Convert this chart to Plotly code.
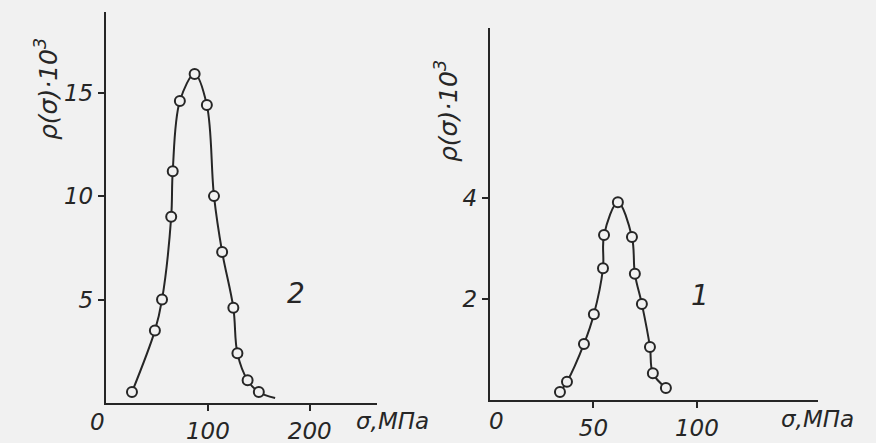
import plotly.graph_objects as go

W, H = 876, 443
BG = "#f1f1f1"
INK = "#262626"

# Panel "2" (left): sigma (MPa) and p(sigma)*10^3
sigma_2 = [25.5, 48, 55, 64, 65.5, 72.5, 87, 99, 106, 114, 125, 129, 139, 150]
p_2 = [0.53, 3.5, 5.0, 9.0, 11.2, 14.6, 15.9, 14.4, 10.0, 7.3, 4.6, 2.4, 1.1, 0.53]
tail_sigma_2 = [166]
tail_p_2 = [0.24]

# Panel "1" (right)
sigma_1 = [33.8, 37.2, 45.4, 50.2, 54.6, 55.1, 61.8, 68.6, 70.0, 73.4, 77.3, 78.7, 85.0]
p_1 = [0.16, 0.36, 1.11, 1.70, 2.61, 3.27, 3.92, 3.23, 2.50, 1.90, 1.05, 0.53, 0.24]

xticks_2 = [100, 200]
yticks_2 = [5, 10, 15]
xticks_1 = [50, 100]
yticks_1 = [2, 4]

FONT = dict(family="DejaVu Sans", size=23, color=INK, style="italic")

fig = go.Figure()

fig.add_trace(go.Scatter(x=sigma_2 + tail_sigma_2, y=p_2 + tail_p_2, mode="lines",
                         line=dict(color=INK, width=2, shape="spline", smoothing=1.0),
                         xaxis="x", yaxis="y", hoverinfo="skip"))
fig.add_trace(go.Scatter(x=sigma_2, y=p_2, mode="markers",
                         marker=dict(symbol="circle", size=10, color=BG, line=dict(color=INK, width=2)),
                         xaxis="x", yaxis="y"))
fig.add_trace(go.Scatter(x=sigma_1, y=p_1, mode="lines",
                         line=dict(color=INK, width=2, shape="spline", smoothing=1.0),
                         xaxis="x2", yaxis="y2", hoverinfo="skip"))
fig.add_trace(go.Scatter(x=sigma_1, y=p_1, mode="markers",
                         marker=dict(symbol="circle", size=10, color=BG, line=dict(color=INK, width=2)),
                         xaxis="x2", yaxis="y2"))

ax_common = dict(showline=True, linecolor=INK, linewidth=2.4, ticks="outside", ticklen=6,
                 tickwidth=1.8, tickcolor=INK, showgrid=False, zeroline=False,
                 tickfont=FONT, fixedrange=True, automargin=False)

fig.update_layout(
    width=W, height=H, autosize=False,
    margin=dict(l=0, r=0, t=0, b=0),
    paper_bgcolor=BG, plot_bgcolor=BG,
    showlegend=False,
    xaxis=dict(domain=[106 / W, 377 / W], range=[0, 266], anchor="y",
               tickvals=xticks_2, **ax_common),
    yaxis=dict(domain=[1 - 403 / H, 1 - 12 / H], range=[0, 18.9], anchor="x",
               tickvals=yticks_2, **ax_common),
    xaxis2=dict(domain=[490 / W, 818 / W], range=[0, 158.5], anchor="y2",
                tickvals=xticks_1, **ax_common),
    yaxis2=dict(domain=[1 - 400 / H, 1 - 28 / H], range=[0, 7.37], anchor="x2",
                tickvals=yticks_1, **ax_common),
)

def ann(text, px, py, size=23, angle=0):
    fig.add_annotation(text=text, x=px / W, y=1 - py / H, xref="paper", yref="paper",
                       showarrow=False, textangle=angle, xanchor="center", yanchor="middle",
                       font=dict(FONT, size=size))

ann("ρ(σ)·10<sup>3</sup>", 46, 89, size=25, angle=-90)
ann("ρ(σ)·10<sup>3</sup>", 446, 111, size=25, angle=-90)
ann("2", 296, 293, size=28)
ann("1", 700, 295, size=28)
ann("σ,МПа", 392, 421)
ann("σ,МПа", 817, 419)
ann("0", 97, 422)
ann("0", 496, 421)

fig.write_html("out.html", config={"displayModeBar": False},
               post_script="document.body.style.margin='0';document.body.style.overflow='hidden';")
